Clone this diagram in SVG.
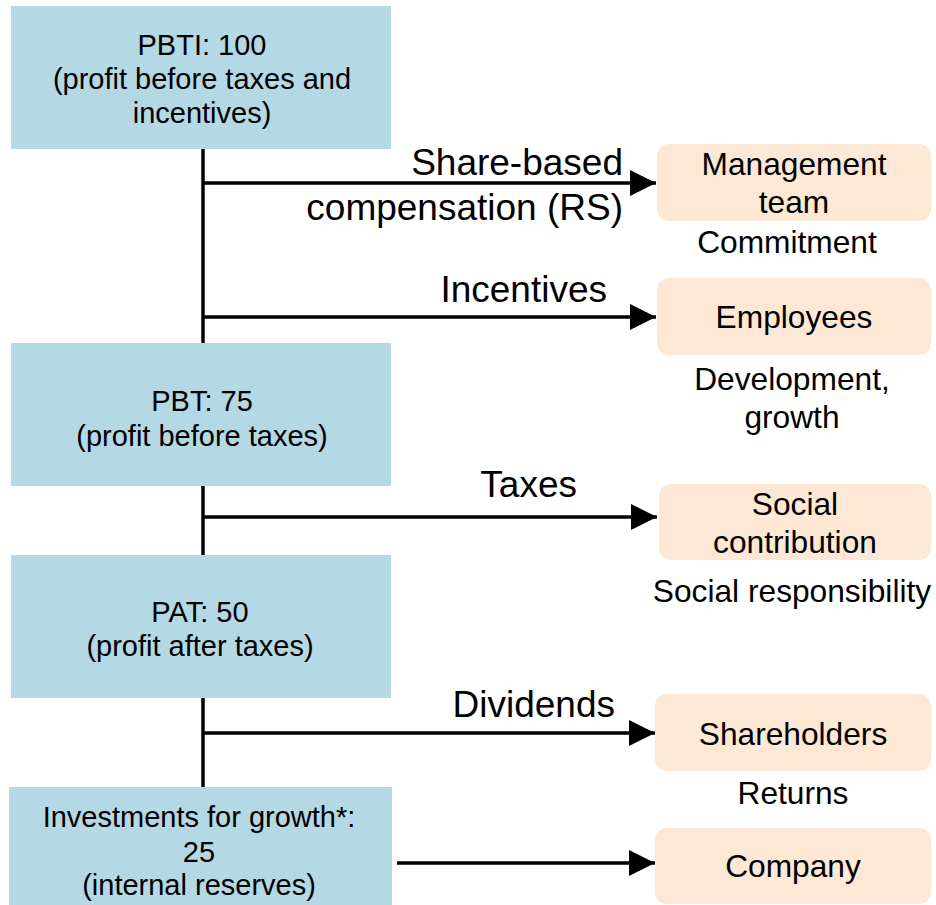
<svg xmlns="http://www.w3.org/2000/svg" width="936" height="905" viewBox="0 0 936 905">
<defs>
<marker id="ah" markerUnits="userSpaceOnUse" markerWidth="28" markerHeight="28" refX="26" refY="13" orient="auto">
<path d="M0,0 L26,13 L0,26 Z" fill="#000"/>
</marker>
<style>
.blue{fill:#B4D8E4}
.org{fill:#FCE8D5}
text{font-family:"Liberation Sans",Arial,sans-serif;fill:#000}
.bt{font-size:29px;text-anchor:middle}
.rt{font-size:31.7px;text-anchor:middle}
.lb{font-size:37px;text-anchor:end}
.ln{stroke:#000;stroke-width:3.5;fill:none}
</style>
</defs>
<g id="connectors">
<line class="ln" x1="203" y1="149" x2="203" y2="343"/>
<line class="ln" x1="203" y1="486" x2="203" y2="555"/>
<line class="ln" x1="203" y1="698" x2="203" y2="787"/>
<line class="ln" x1="203" y1="183" x2="656" y2="183" marker-end="url(#ah)"/>
<line class="ln" x1="203" y1="317" x2="656" y2="317" marker-end="url(#ah)"/>
<line class="ln" x1="203" y1="517" x2="657" y2="517" marker-end="url(#ah)"/>
<line class="ln" x1="203" y1="733" x2="655" y2="733" marker-end="url(#ah)"/>
<line class="ln" x1="397" y1="863" x2="655" y2="863" marker-end="url(#ah)"/>
<text class="lb" x="623" y="175">Share-based</text>
<text class="lb" x="623" y="220">compensation (RS)</text>
<text class="lb" x="607" y="302">Incentives</text>
<text class="lb" x="577" y="497">Taxes</text>
<text class="lb" x="615" y="717">Dividends</text>
</g>
<g id="pbti">
<rect class="blue" x="11" y="6" width="380" height="143"/>
<text class="bt" x="202" y="55">PBTI: 100</text>
<text class="bt" x="202" y="89">(profit before taxes and</text>
<text class="bt" x="202" y="123">incentives)</text>
</g>
<g id="pbt">
<rect class="blue" x="11" y="343" width="380" height="143"/>
<text class="bt" x="202" y="411">PBT: 75</text>
<text class="bt" x="202" y="446">(profit before taxes)</text>
</g>
<g id="pat">
<rect class="blue" x="11" y="555" width="380" height="143"/>
<text class="bt" x="200" y="622">PAT: 50</text>
<text class="bt" x="200" y="656">(profit after taxes)</text>
</g>
<g id="invest">
<rect class="blue" x="9" y="787" width="383" height="118"/>
<text class="bt" x="199" y="827">Investments for growth*:</text>
<text class="bt" x="199" y="862">25</text>
<text class="bt" x="199" y="895">(internal reserves)</text>
</g>
<g id="management">
<rect class="org" x="657" y="144" width="274" height="77" rx="12"/>
<text class="rt" x="794" y="175">Management</text>
<text class="rt" x="794" y="213">team</text>
<text class="rt" x="787" y="253">Commitment</text>
</g>
<g id="employees">
<rect class="org" x="657" y="278" width="274" height="77" rx="12"/>
<text class="rt" x="794" y="328">Employees</text>
<text class="rt" x="792" y="390">Development,</text>
<text class="rt" x="792" y="428">growth</text>
</g>
<g id="social">
<rect class="org" x="659" y="484" width="272" height="76" rx="12"/>
<text class="rt" x="795" y="515">Social</text>
<text class="rt" x="795" y="553">contribution</text>
<text class="rt" x="792" y="602">Social responsibility</text>
</g>
<g id="shareholders">
<rect class="org" x="655" y="694" width="276" height="77" rx="12"/>
<text class="rt" x="793" y="745">Shareholders</text>
<text class="rt" x="793" y="804">Returns</text>
</g>
<g id="company">
<rect class="org" x="655" y="828" width="276" height="76" rx="12"/>
<text class="rt" x="793" y="877">Company</text>
</g>
</svg>
